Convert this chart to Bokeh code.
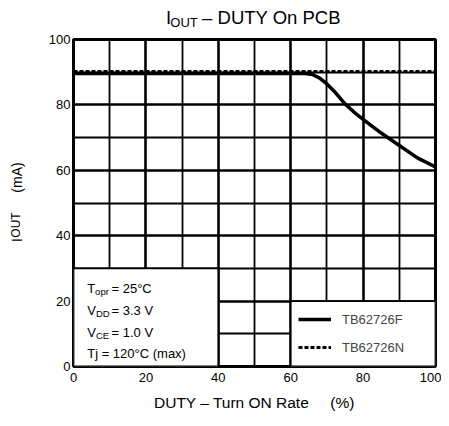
from bokeh.plotting import figure
from bokeh.models import Range1d, FixedTicker, Label, Legend, LegendItem, LinearAxis
from bokeh.embed import file_html
from bokeh.resources import INLINE

# ---- data ----
duty_f = [0, 20, 40, 60, 64, 66, 68, 70, 72, 75, 78, 80, 85, 90, 95, 100]
iout_f = [89.6, 89.6, 89.6, 89.6, 89.6, 89.3, 88.2, 86.4, 84.2, 80.3, 77.3, 75.6, 71.4, 67.6, 63.8, 61.0]
duty_n = [0, 100]
iout_n = [90.2, 90.2]
x_ticks = [0, 20, 40, 60, 80, 100]
y_ticks = [0, 20, 40, 60, 80, 100]
x_minor = [10, 30, 50, 70, 90]
y_minor = [10, 30, 50, 70, 90]
series_names = ["TB62726F", "TB62726N"]

FONT = "Liberation Sans"
# frame geometry on page (px)
FL, FR, FT, FB = 73, 435, 39, 366
SX = (FR - FL) / 100.0
SY = (FB - FT) / 100.0


def dx(px):
    return (px - FL) / SX


def dy(py):
    return (FB - py) / SY


p = figure(width=441, height=418, output_backend="svg", toolbar_location=None,
           x_range=Range1d(0, 100), y_range=Range1d(0, 100),
           min_border_left=FL, min_border_right=441 - FR, min_border_top=FT,
           min_border_bottom=418 - FB)
p.background_fill_color = "white"
p.border_fill_color = "white"
p.outline_line_color = "black"
p.outline_line_width = 3

for ax, tk, mn in ((p.xaxis, x_ticks, x_minor), (p.yaxis, y_ticks, y_minor)):
    ax.ticker = FixedTicker(ticks=tk, minor_ticks=mn)
    ax.axis_line_color = None
    ax.major_tick_line_color = None
    ax.minor_tick_line_color = None
    ax.major_tick_out = 0
    ax.major_tick_in = 0
    ax.minor_tick_out = 0
    ax.minor_tick_in = 0
    ax.major_label_text_font = FONT
    ax.major_label_text_font_size = "13px"
    ax.major_label_text_color = "black"
p.xaxis.major_label_standoff = 6
p.yaxis.major_label_standoff = 3
p.xaxis.axis_label = "DUTY \u2013 Turn ON Rate\u00a0\u00a0\u00a0\u00a0\u00a0(%)"
p.xaxis.axis_label_text_font = FONT
p.xaxis.axis_label_text_font_size = "15.5px"
p.xaxis.axis_label_text_font_style = "normal"
p.xaxis.axis_label_text_color = "black"
p.xaxis.axis_label_standoff = 9

for g in (p.xgrid, p.ygrid):
    g.grid_line_color = "black"
    g.grid_line_width = 2.6
    g.minor_grid_line_color = "black"
    g.minor_grid_line_width = 1.8


def text_axis(side, ticks, labels, size, standoff, orientation=None):
    ax = LinearAxis(ticker=FixedTicker(ticks=ticks),
                    major_label_overrides=dict(zip(ticks, labels)),
                    axis_line_color=None, major_tick_line_color=None,
                    minor_tick_line_color=None, major_tick_out=0, major_tick_in=0,
                    minor_tick_out=0, minor_tick_in=0,
                    major_label_standoff=standoff, major_label_text_font=FONT,
                    major_label_text_font_size=f"{size}px",
                    major_label_text_color="black")
    if orientation is not None:
        ax.major_label_orientation = orientation
    p.add_layout(ax, side)


# title "I_OUT – DUTY On PCB" (subscript via stacked label axes)
text_axis("above", [dx(183.5)], ["OUT"], 13, 10)
text_axis("above", [dx(168.0), dx(271.0)], ["I", "\u2013 DUTY On PCB"], 18.5, -16)

# y label "I_OUT  (mA)"
text_axis("left", [dy(239.5), dy(177.0)], ["I", "(mA)"], 14, 21, "vertical")
text_axis("left", [dy(224.5)], ["OUT"], 12, -17, "vertical")

# white boxes for conditions and legend
p.quad(left=[0], right=[40], bottom=[0], top=[30], fill_color="white",
       line_color="black", line_width=1.8)
p.quad(left=[60], right=[100], bottom=[0], top=[20], fill_color="white",
       line_color="black", line_width=1.8)

rn = p.line(duty_n, iout_n, line_color="black", line_width=3, line_dash="4 2")
rf = p.line(duty_f, iout_f, line_color="black", line_width=3.5, line_join="round")

legend = Legend(items=[LegendItem(label=series_names[0], renderers=[rf]),
                       LegendItem(label=series_names[1], renderers=[rn])],
                location=(225, 9), border_line_color=None, background_fill_alpha=0,
                glyph_width=33, glyph_height=20, label_height=20, spacing=8,
                padding=4, margin=0, label_standoff=11,
                label_text_font=FONT, label_text_font_size="13px")
p.add_layout(legend)


def lab(txt, px, py, size):
    p.add_layout(Label(x=dx(px), y=dy(py), text=txt,
                       text_font=FONT, text_font_size=f"{size}px",
                       text_baseline="alphabetic", text_align="left",
                       text_color="black"))


# conditions text
lab("T", 86.7, 288, 13)
lab("opr", 94.6, 291, 9.5)
lab("= 25\u00b0C", 111, 288, 13)
lab("V", 86.7, 309.5, 13)
lab("DD", 95.4, 312.5, 9.5)
lab("= 3.3 V", 111, 309.5, 13)
lab("V", 86.7, 331.5, 13)
lab("CE", 95.4, 334.5, 9.5)
lab("= 1.0 V", 111, 331.5, 13)
lab("Tj = 120\u00b0C (max)", 86.7, 353, 13)

open("out.html", "w").write(file_html(p, INLINE))
